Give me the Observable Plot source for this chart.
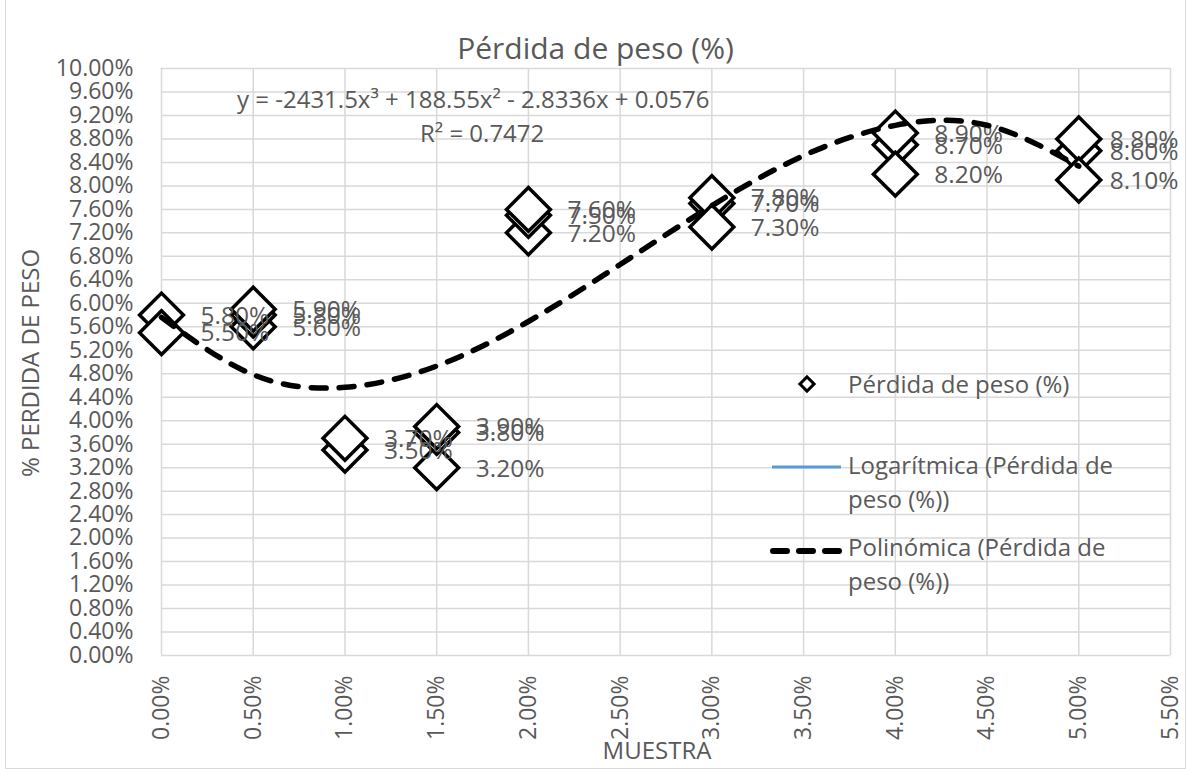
<!DOCTYPE html>
<html><head><meta charset="utf-8">
<script src="https://cdn.jsdelivr.net/npm/d3@7"></script>
<script src="https://cdn.jsdelivr.net/npm/@observablehq/plot@0.6"></script>
<style>
body{margin:0;background:#fff;font-family:"Open Sans",sans-serif;color:#595959}
#wrap{position:relative;width:1191px;height:769px;overflow:hidden;background:#fff}
#frame{position:absolute;left:5px;top:-2px;width:1181px;height:771px;border:1px solid #d9d9d9;pointer-events:none;box-sizing:border-box}
#chart{position:absolute;left:0;top:48px}
.t{position:absolute;white-space:nowrap;line-height:1}
#title{left:0;width:1191px;text-align:center;top:33px;font-size:30px}
#eq{left:237px;top:87px;font-size:24px}
#r2{left:420px;top:121px;font-size:24px}
#ylab{left:30px;top:363px;font-size:24px;transform:translate(-50%,-50%) rotate(-90deg)}
#xlab{left:657px;top:750px;font-size:24px;transform:translate(-50%,-50%)}
.leg{font-size:24px;line-height:34px}
</style>
</head><body>
<div id="wrap">
  <div id="chart"></div>
  <div class="t" id="title">Pérdida de peso (%)</div>
  <div class="t" id="eq">y = -2431.5x³ + 188.55x² - 2.8336x + 0.0576</div>
  <div class="t" id="r2">R² = 0.7472</div>
  <div class="t" id="ylab">% PERDIDA DE PESO</div>
  <div class="t" id="xlab">MUESTRA</div>
  <svg style="position:absolute;left:0;top:0" width="1191" height="769">
    <rect x="802" y="379" width="10" height="10" transform="rotate(45 807 384)" fill="#fff" stroke="#000" stroke-width="3"/>
    <line x1="772" y1="467" x2="841" y2="467" stroke="#5B9BD5" stroke-width="3"/>
    <line x1="773" y1="551" x2="841" y2="551" stroke="#000" stroke-width="6" stroke-dasharray="14,12" stroke-linecap="round"/>
  </svg>
  <div class="t leg" style="left:848px;top:367px">Pérdida de peso (%)</div>
  <div class="t leg" style="left:848px;top:448px">Logarítmica (Pérdida de<br>peso (%))</div>
  <div class="t leg" style="left:848px;top:530px">Polinómica (Pérdida de<br>peso (%))</div>
  <div id="frame"></div>
</div>
<script>
// Data points (in draw order)
const muestra = [0, 0, 0.005, 0.005, 0.005, 0.01, 0.01, 0.015, 0.015, 0.015, 0.02, 0.02, 0.02, 0.03, 0.03, 0.03, 0.04, 0.04, 0.04, 0.05, 0.05, 0.05];
const perdida = [0.058, 0.055, 0.056, 0.058, 0.059, 0.035, 0.037, 0.032, 0.038, 0.039, 0.072, 0.075, 0.076, 0.077, 0.078, 0.073, 0.087, 0.089, 0.082, 0.086, 0.088, 0.081];
// Polynomial trend line values
const trendX = [0, 0.005, 0.01, 0.015, 0.02, 0.025, 0.03, 0.035, 0.04, 0.045, 0.05];
const trendY = [0.0576, 0.04784, 0.04569, 0.04931, 0.05690, 0.06661, 0.07664, 0.08515, 0.09032, 0.09033, 0.08336];
// Tick values
const xTicks = [0, 0.005, 0.01, 0.015, 0.02, 0.025, 0.03, 0.035, 0.04, 0.045, 0.05, 0.055];
const yTicks = [0, 0.004, 0.008, 0.012, 0.016, 0.02, 0.024, 0.028, 0.032, 0.036, 0.04, 0.044, 0.048, 0.052, 0.056, 0.06, 0.064, 0.068, 0.072, 0.076, 0.08, 0.084, 0.088, 0.092, 0.096, 0.1];

const pts = muestra.map((x, i) => ({x, y: perdida[i]}));
const trend = trendX.map((x, i) => ({x, y: trendY[i]}));
const pct = d => (d * 100).toFixed(2) + "%";
const inner = pts.filter(d => d.x < 0.045);
const edge = pts.filter(d => d.x >= 0.045);

const chart = Plot.plot({
  width: 1191, height: 721,
  marginTop: 20, marginBottom: 114, marginLeft: 161, marginRight: 21,
  style: {fontFamily: "'Open Sans', sans-serif", color: "#595959", background: "transparent", overflow: "visible"},
  x: {domain: [0, 0.055]},
  y: {domain: [0, 0.1]},
  marks: [
    Plot.gridX(xTicks, {stroke: "#d9d9d9", strokeOpacity: 1, strokeWidth: 1.5}),
    Plot.gridY(yTicks, {stroke: "#d9d9d9", strokeOpacity: 1, strokeWidth: 1.5}),
    Plot.axisY(yTicks, {tickFormat: pct, tickSize: 0, tickPadding: 28, fontSize: 23, label: null, fill: "#595959"}),
    Plot.axisX(xTicks, {tickFormat: pct, tickSize: 0, tickPadding: 20, tickRotate: -90, fontSize: 23, label: null, fill: "#595959"}),
    Plot.dot(pts, {x: "x", y: "y", symbol: "square", rotate: 45, r: 17.5, fill: "white", stroke: "black", strokeWidth: 3.5}),
    Plot.text(inner, {x: "x", y: "y", text: d => pct(d.y), dx: 39, dy: 1, textAnchor: "start", fontSize: 24.5, fill: "#595959"}),
    Plot.text(edge, {x: "x", y: "y", text: d => pct(d.y), dx: 31, dy: 1, textAnchor: "start", fontSize: 24.5, fill: "#595959"}),
    Plot.line(trend, {x: "x", y: "y", curve: "natural", stroke: "black", strokeWidth: 5.5, strokeDasharray: "15,13", strokeLinecap: "round"})
  ]
});
document.getElementById("chart").appendChild(chart);
</script>
</body></html>
